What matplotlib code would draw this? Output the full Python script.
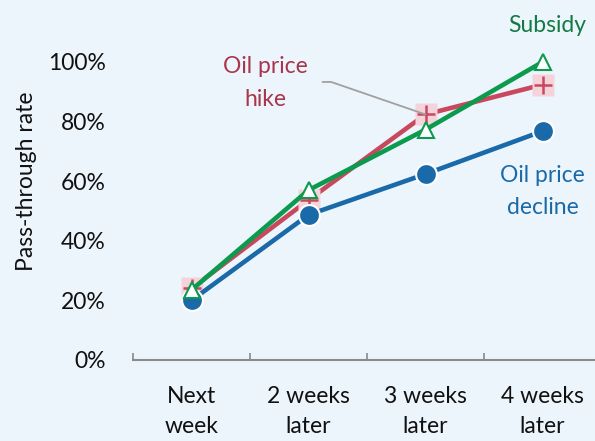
import matplotlib.pyplot as plt
from matplotlib.ticker import PercentFormatter

plt.rcParams['font.family'] = ['Lato', 'DejaVu Sans']

# datos
categorias = ["Next\nweek", "2 weeks\nlater", "3 weeks\nlater", "4 weeks\nlater"]
subida = [0.24, 0.537, 0.824, 0.924]      # Oil price hike
bajada = [0.20, 0.487, 0.624, 0.768]      # Oil price decline
subsidio = [0.235, 0.57, 0.773, 1.0]      # Subsidy

fondo = "#EDF5FC"
azul = "#1A69A8"
rojo = "#C8485E"
rosa = "#F5D3DB"
verde = "#0B9A4E"
tam = 16.5

fig = plt.figure(figsize=(5.95, 4.41), dpi=100, facecolor=fondo)
ax = fig.add_axes([133 / 595, 81 / 441, 468 / 595, 1.2 * 298 / 441])
ax.set_facecolor(fondo)

x = list(range(len(categorias)))

# Oil price hike: cuadrado rosa + cruz roja
ax.plot(x, subida, color=rojo, lw=3.3, zorder=2)
ax.plot(x, subida, ls="none", marker="s", ms=16, mfc=rosa, mec="none", zorder=2.1)
ax.plot(x, subida, ls="none", marker="+", ms=13, mew=1.8, color=rojo, zorder=2.2)

# Oil price decline
ax.plot(x, bajada, color=azul, lw=3.3, marker="o", ms=15, mfc=azul, mec="white",
        mew=1.5, zorder=3)

# Subsidy
ax.plot(x, subsidio, color=verde, lw=3.3, marker="^", ms=12, mfc="white", mec=verde,
        mew=1.5, zorder=4)

ax.set_xlim(-0.5, 3.5)
ax.set_ylim(0, 1.2)

for lado in ["left", "right", "top"]:
    ax.spines[lado].set_visible(False)
ax.spines["bottom"].set_color("#8a8a8a")
ax.spines["bottom"].set_linewidth(1.5)

ax.set_xticks([-0.5, 0.5, 1.5, 2.5, 3.5])
ax.set_xticklabels([])
ax.tick_params(axis="x", which="major", direction="in", length=5, width=1.2, color="#8a8a8a")
ax.set_xticks(x, minor=True)
ax.set_xticklabels(categorias, minor=True, fontsize=tam, color="#111111", linespacing=1.5)
ax.tick_params(axis="x", which="minor", length=0, pad=19)

ax.set_yticks([0, 0.2, 0.4, 0.6, 0.8, 1.0])
ax.yaxis.set_major_formatter(PercentFormatter(1.0, decimals=0))
ax.tick_params(axis="y", length=0, pad=19.5, labelsize=tam, labelcolor="#111111")
ax.set_ylabel("Pass-through rate", fontsize=tam, color="#111111", labelpad=8)

# linea gris hacia el punto de la semana 3
ax.annotate("", xy=(2, subida[2]), xytext=(1.12, 0.933),
            arrowprops=dict(arrowstyle="-", color="#a0a0a0", lw=1.3,
                            connectionstyle="angle,angleA=0,angleB=161,rad=0",
                            shrinkA=0, shrinkB=0))
ax.text(0.63, 0.93, "Oil price\nhike", ha="center", va="center", fontsize=tam,
        color="#A8354B", linespacing=1.7)
ax.text(3.0, 0.567, "Oil price\ndecline", ha="center", va="center", fontsize=tam,
        color=azul, linespacing=1.65)
ax.text(3.04, 1.124, "Subsidy", ha="center", va="center", fontsize=tam,
        color="#137A43", clip_on=False)

fig.savefig("out.png", dpi=100, facecolor=fondo)
